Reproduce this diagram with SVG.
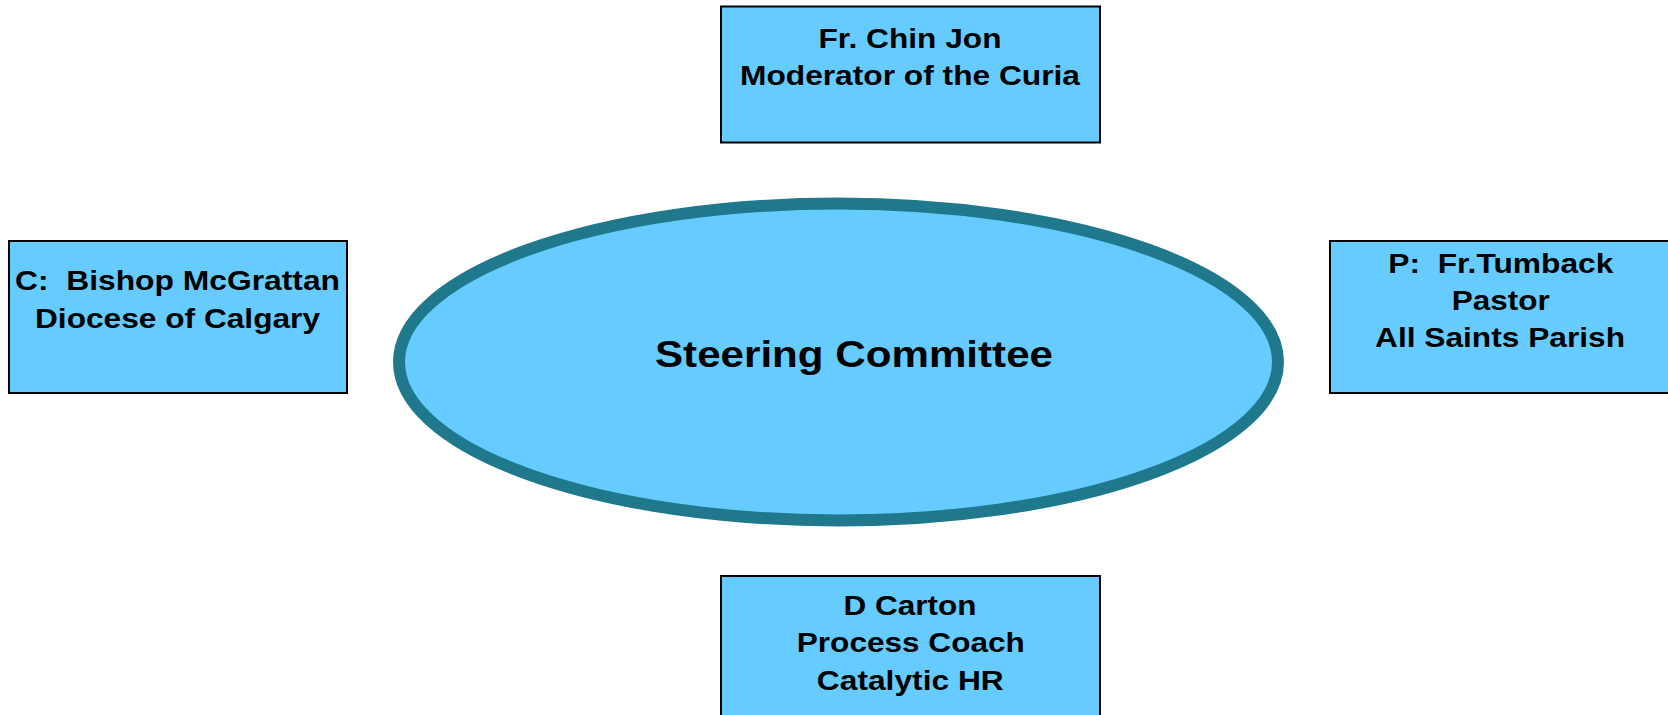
<svg xmlns="http://www.w3.org/2000/svg" width="1668" height="715" viewBox="0 0 1668 715" xml:space="preserve">
<style>
.box{fill:#66CCFF;stroke:#000;stroke-width:2}
.t{font-family:"Liberation Sans",Arial,sans-serif;font-weight:bold;font-size:27px;fill:#000;text-anchor:middle;white-space:pre}
.big{font-size:36.5px}
</style>
<rect width="1668" height="715" fill="#fff"/>
<g id="connectors"></g>
<g id="steering">
<ellipse cx="838.5" cy="362" rx="439.5" ry="158.5" fill="#66CCFF" stroke="#1F788C" stroke-width="12"/>
<text class="t big" x="854" y="367" textLength="398" lengthAdjust="spacingAndGlyphs">Steering Committee</text>
</g>
<g id="top">
<rect class="box" x="721" y="6.5" width="379" height="136"/>
<text class="t" x="910" y="48" textLength="183" lengthAdjust="spacingAndGlyphs">Fr. Chin Jon</text>
<text class="t" x="910" y="85" textLength="340" lengthAdjust="spacingAndGlyphs">Moderator of the Curia</text>
</g>
<g id="left">
<rect class="box" x="9" y="241" width="338" height="152"/>
<text class="t" x="177.5" y="290" textLength="325" lengthAdjust="spacingAndGlyphs">C:  Bishop McGrattan</text>
<text class="t" x="177.5" y="328" textLength="285" lengthAdjust="spacingAndGlyphs">Diocese of Calgary</text>
</g>
<g id="right">
<rect class="box" x="1330" y="241" width="340" height="152"/>
<text class="t" x="1500.8" y="273" textLength="225" lengthAdjust="spacingAndGlyphs">P:  Fr.Tumback</text>
<text class="t" x="1500.8" y="310" textLength="98" lengthAdjust="spacingAndGlyphs">Pastor</text>
<text class="t" x="1500" y="347" textLength="250" lengthAdjust="spacingAndGlyphs">All Saints Parish</text>
</g>
<g id="bottom">
<rect class="box" x="721" y="576" width="379" height="150"/>
<text class="t" x="910" y="615" textLength="133" lengthAdjust="spacingAndGlyphs">D Carton</text>
<text class="t" x="910.8" y="652" textLength="228" lengthAdjust="spacingAndGlyphs">Process Coach</text>
<text class="t" x="910.3" y="690" textLength="187" lengthAdjust="spacingAndGlyphs">Catalytic HR</text>
</g>
</svg>
